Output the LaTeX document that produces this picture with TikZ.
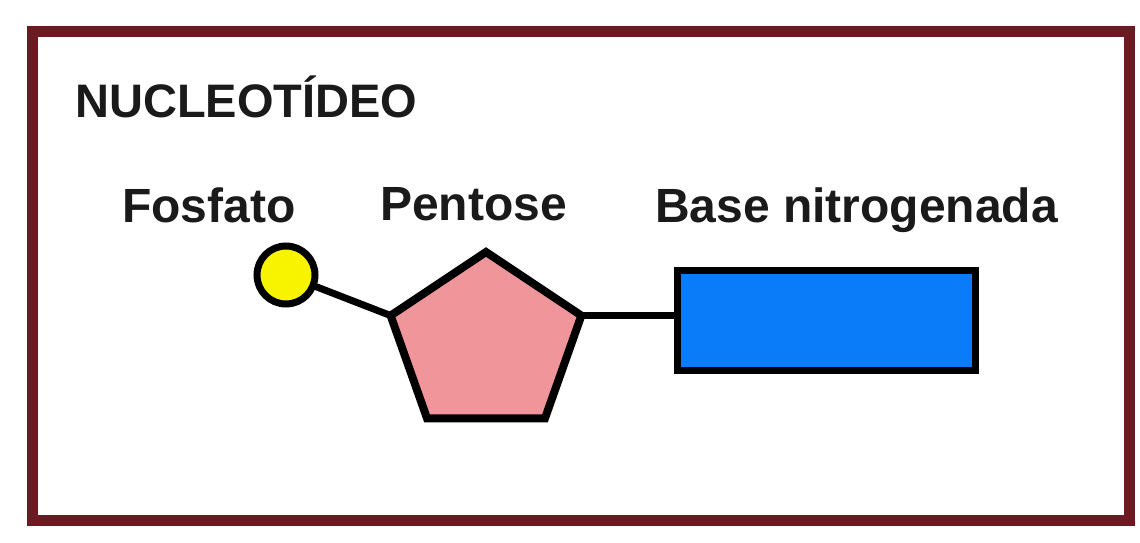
\documentclass[tikz,border=0pt]{standalone}
\usepackage{fontspec}
\setmainfont{Liberation Sans}
\usetikzlibrary{shapes.geometric}
\definecolor{frame}{HTML}{6A1A20}
\definecolor{pinkfill}{HTML}{F0959A}
\definecolor{bluefill}{HTML}{0A7CFA}
\definecolor{yellowfill}{HTML}{F8F400}
\definecolor{txt}{HTML}{1A1A1A}
\tikzset{
  lbl/.style={font=\fontsize{48}{52}\selectfont\bfseries, text=txt, inner sep=0pt, anchor=base west},
  bond/.style={draw=black, line width=7pt},
}
\begin{document}
\begin{tikzpicture}[x=1pt,y=-1pt]
\useasboundingbox (0,0) rectangle (1140,543);
\fill[white] (0,0) rectangle (1140,543);
\draw[frame, line width=11pt] (32,32) rectangle (1129,520);
\node[lbl, font=\fontsize{47}{52}\selectfont\bfseries] (title) at (75,117) {NUCLEOT\'IDEO};
\node[lbl] (lfos) at (122,222) {Fosfato};
\node[lbl] (lpen) at (380,220) {Pentose};
\node[lbl] (lbase) at (655,222) {Base nitrogenada};
\node[circle, draw=black, line width=7pt, fill=yellowfill, minimum size=58pt, inner sep=0pt, outer sep=0pt] (fos) at (286,275) {};
\node[regular polygon, regular polygon sides=5, draw=black, line width=8pt, fill=pinkfill, minimum size=184pt, inner sep=0pt, outer sep=0pt, xscale=1.09, transform shape] (pen) at (486,344) {};
\node[rectangle, draw=black, line width=7pt, fill=bluefill, minimum width=298pt, minimum height=100pt, inner sep=0pt, outer sep=0pt] (base) at (826,320) {};
\draw[bond] (fos) -- (pen.corner 2);
\draw[bond] (pen.corner 5) -- (base.west |- pen.corner 5);
\end{tikzpicture}
\end{document}
